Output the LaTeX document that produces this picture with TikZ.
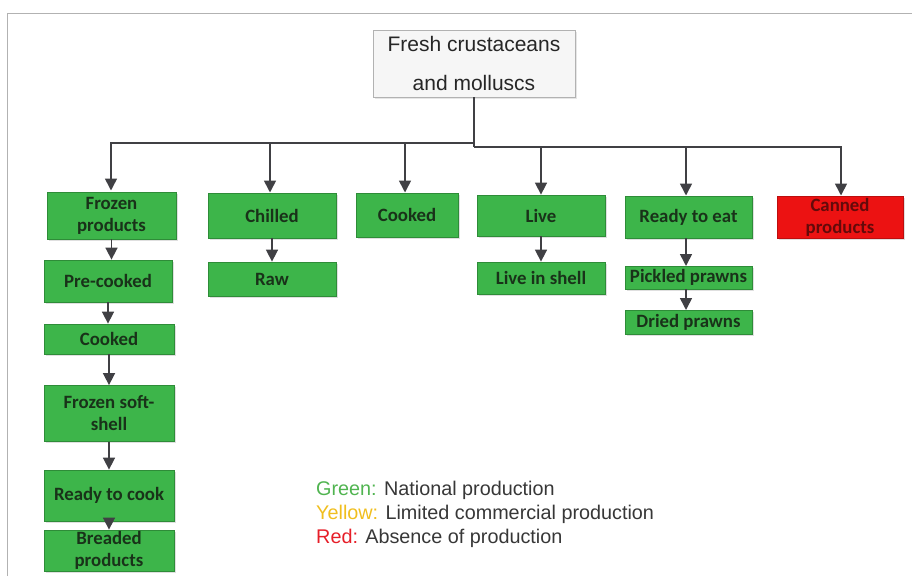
\documentclass[tikz,border=0pt]{standalone}
\usepackage{fontspec}
\setmainfont{Liberation Sans}
\newfontfamily\boxfont{Carlito}
\usetikzlibrary{arrows.meta,shadows}
\definecolor{gfill}{RGB}{61,181,74}
\definecolor{gdraw}{RGB}{46,140,56}
\definecolor{gtext}{RGB}{25,50,25}
\definecolor{rfill}{RGB}{236,18,18}
\definecolor{rtext}{RGB}{100,10,10}
\definecolor{conn}{RGB}{64,64,68}
\definecolor{lgreen}{RGB}{80,180,80}
\definecolor{lyellow}{RGB}{240,190,30}
\definecolor{lred}{RGB}{230,30,40}
\definecolor{ltext}{RGB}{55,55,55}
\tikzset{
  gbox/.style={draw=gdraw, fill=gfill, line width=0.8pt, text=gtext, align=center,
    font=\boxfont\bfseries\fontsize{18.8}{22}\selectfont, inner sep=1pt,
    drop shadow={shadow xshift=1.5pt, shadow yshift=-1.5pt, opacity=0.25}},
  rbox/.style={gbox, draw=rfill!80!black, fill=rfill, text=rtext},
  rootbox/.style={draw=gray!60, fill=gray!7, line width=0.8pt, align=center, text=black!85,
    font=\fontsize{21}{39}\selectfont, inner sep=1pt,
    drop shadow={shadow xshift=1.5pt, shadow yshift=-1.5pt, opacity=0.2}},
  arr/.style={draw=conn, line width=1.6pt, -{Triangle[length=12pt,width=12pt]}},
  line/.style={draw=conn, line width=1.6pt},
  legend/.style={anchor=west, inner sep=0pt, font=\fontsize{19.8}{22}\selectfont, text=ltext}
}
\begin{document}
\begin{tikzpicture}[x=1pt,y=-1pt]
\useasboundingbox (0,0) rectangle (912,576);
% frame
\draw[gray!60, line width=1.5pt] (7.5,576) -- (7.5,13.5) -- (912,13.5);
% nodes
\node[rootbox, minimum width=202pt, minimum height=67pt] (root) at (474,63.5) {Fresh crustaceans\\and molluscs};
\node[gbox, minimum width=129pt, minimum height=47pt] (froz) at (111.5,215.5) {Frozen\\products};
\node[gbox, minimum width=128pt, minimum height=45pt] (chill) at (272,215.5) {Chilled};
\node[gbox, minimum width=102pt, minimum height=44pt] (cooka) at (407,215) {Cooked};
\node[gbox, minimum width=128pt, minimum height=41pt] (live) at (541,215.5) {Live};
\node[gbox, minimum width=127pt, minimum height=42pt] (rte) at (688.5,217) {Ready to eat};
\node[rbox, minimum width=126pt, minimum height=42pt] (can) at (840,217.5) {Canned\\products};
\node[gbox, minimum width=128pt, minimum height=42pt] (pre) at (108,281) {Pre-cooked};
\node[gbox, minimum width=130pt, minimum height=30pt] (cookb) at (109,339) {Cooked};
\node[gbox, minimum width=130pt, minimum height=56pt] (soft) at (109,413.5) {Frozen soft-\\shell};
\node[gbox, minimum width=130pt, minimum height=51pt] (rtc) at (109,495.5) {Ready to cook};
\node[gbox, minimum width=130pt, minimum height=41pt] (bread) at (109,550.5) {Breaded\\products};
\node[gbox, minimum width=128pt, minimum height=34pt] (raw) at (272,279) {Raw};
\node[gbox, minimum width=128pt, minimum height=32pt] (lis) at (541,278) {Live in shell};
\node[gbox, minimum width=127pt, minimum height=23pt] (pick) at (688.5,277.5) {Pickled prawns};
\node[gbox, minimum width=127pt, minimum height=24pt] (dried) at (688.5,322) {Dried prawns};
% bus
\coordinate (busL) at (474,143);
\coordinate (busR) at (474,147);
\draw[line] (root.south) -- (busR);
\draw[arr] (busL) -| (111,190.5);
\draw[arr] (busL) -| (270,192.5);
\draw[arr] (busL) -| (405,192.5);
\draw[arr] (busR) -| (live.north);
\draw[arr] (busR) -| (686,195.5);
\draw[arr] (busR) -| (841,195.5);
% chains
\draw[arr] (froz.south) -- (froz.south |- pre.north);
\draw[arr] (pre.south) -- (pre.south |- cookb.north);
\draw[arr] (cookb.south) -- (cookb.south |- soft.north);
\draw[arr] (soft.south) -- (soft.south |- rtc.north);
\draw[arr] (rtc.south) -- (rtc.south |- bread.north);
\draw[arr] (chill.south) -- (chill.south |- raw.north);
\draw[arr] (live.south) -- (live.south |- lis.north);
\draw[arr] (686,238) -- (686,266);
\draw[arr] (686,289) -- (686,310);
% legend
\node[legend] (lg1) at (316,490) {\textcolor{lgreen}{Green:} National production};
\node[legend] (lg2) at (316,514) {\textcolor{lyellow}{Yellow:} Limited commercial production};
\node[legend] (lg3) at (316,538) {\textcolor{lred}{Red:} Absence of production};
\end{tikzpicture}
\end{document}
